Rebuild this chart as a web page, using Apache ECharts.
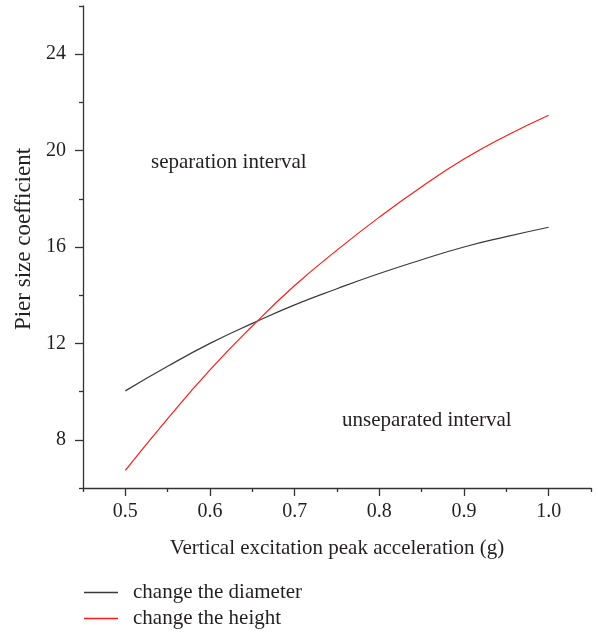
<!DOCTYPE html>
<html>
<head>
<meta charset="utf-8">
<script src="https://cdn.jsdelivr.net/npm/echarts@6/dist/echarts.min.js"></script>
<style>
  html, body { margin: 0; padding: 0; background: #fff; }
  #chart { width: 598px; height: 633px; }
</style>
</head>
<body>
<div id="chart"></div>
<script>
// Vertical excitation peak acceleration (g)
const accel = [0.5, 0.55, 0.6, 0.65, 0.7, 0.75, 0.8, 0.85, 0.9, 0.95, 1.0];
// Pier size coefficient when changing the diameter
const diameterCoef = [10.03, 11.05, 12.0, 12.83, 13.6, 14.27, 14.9, 15.47, 16.0, 16.43, 16.82];
// Pier size coefficient when changing the height
const heightCoef = [6.73, 8.88, 10.9, 12.72, 14.4, 15.87, 17.24, 18.5, 19.65, 20.62, 21.47];

const xMajorTicks = [0.5, 0.6, 0.7, 0.8, 0.9, 1.0];
const xMinorTicks = [0.45, 0.55, 0.65, 0.75, 0.85, 0.95, 1.05];
const yMajorTicks = [8, 12, 16, 20, 24];
const yMinorTicks = [6, 10, 14, 18, 22, 26];

const seriesNames = ['change the diameter', 'change the height'];
const regionLabels = ['separation interval', 'unseparated interval'];

const FONT = '"Liberation Serif", "DejaVu Serif", serif';
const INK = '#231f20';
const AXIS = '#333333';

const chart = echarts.init(document.getElementById('chart'), null, { renderer: 'canvas' });

const axisLineStyle = { show: true, lineStyle: { color: AXIS, width: 1.3 } };

chart.setOption({
  animation: false,
  backgroundColor: '#ffffff',
  textStyle: { fontFamily: FONT, color: INK },
  grid: { left: 83, right: 7, top: 6, bottom: 145, containLabel: false },
  xAxis: [
    {
      type: 'value', min: 0.45, max: 1.05, position: 'bottom',
      name: 'Vertical excitation peak acceleration (g)',
      nameLocation: 'middle', nameGap: 50,
      nameTextStyle: { fontFamily: FONT, fontSize: 21, color: INK },
      axisLine: axisLineStyle,
      axisTick: { show: true, length: 8, inside: false, customValues: xMajorTicks,
        lineStyle: { color: AXIS, width: 1.3 } },
      axisLabel: { show: true, customValues: xMajorTicks, margin: 14,
        fontFamily: FONT, fontSize: 20, color: INK,
        formatter: v => v.toFixed(1) },
      splitLine: { show: false }
    },
    {
      type: 'value', min: 0.45, max: 1.05, position: 'bottom',
      axisLine: { show: false },
      axisTick: { show: true, length: 4, customValues: xMinorTicks,
        lineStyle: { color: AXIS, width: 1.3 } },
      axisLabel: { show: false },
      splitLine: { show: false }
    }
  ],
  yAxis: [
    {
      type: 'value', min: 6, max: 26, position: 'left',
      name: 'Pier size coefficient',
      nameLocation: 'middle', nameGap: 47,
      nameTextStyle: { fontFamily: FONT, fontSize: 23, color: INK, padding: [0, 0, 0, 16] },
      axisLine: axisLineStyle,
      axisTick: { show: true, length: 8, customValues: yMajorTicks,
        lineStyle: { color: AXIS, width: 1.3 } },
      axisLabel: { show: true, customValues: yMajorTicks, margin: 17,
        fontFamily: FONT, fontSize: 20, color: INK },
      splitLine: { show: false }
    },
    {
      type: 'value', min: 6, max: 26, position: 'left',
      axisLine: { show: false },
      axisTick: { show: true, length: 4, customValues: yMinorTicks,
        lineStyle: { color: AXIS, width: 1.3 } },
      axisLabel: { show: false },
      splitLine: { show: false }
    }
  ],
  legend: {
    orient: 'vertical', left: 84, top: 582, height: 60, padding: 0,
    icon: 'rect', itemWidth: 34, itemHeight: 1.3, itemGap: 5,
    textStyle: { fontFamily: FONT, fontSize: 21, color: INK, lineHeight: 21, padding: [0, 0, 0, 10] },
    data: seriesNames
  },
  series: [
    {
      name: seriesNames[0], type: 'line', smooth: true, symbol: 'none',
      xAxisIndex: 0, yAxisIndex: 0,
      lineStyle: { color: '#3a3a3a', width: 1.2 },
      itemStyle: { color: '#3a3a3a' },
      data: accel.map((x, i) => [x, diameterCoef[i]])
    },
    {
      name: seriesNames[1], type: 'line', smooth: true, symbol: 'none',
      xAxisIndex: 0, yAxisIndex: 0,
      lineStyle: { color: '#ff1a1a', width: 1.2 },
      itemStyle: { color: '#ff1a1a' },
      data: accel.map((x, i) => [x, heightCoef[i]])
    }
  ],
  graphic: [
    { type: 'text', left: 151, top: 152,
      style: { text: regionLabels[0], font: '21px ' + FONT, fill: INK } },
    { type: 'text', left: 342, top: 410,
      style: { text: regionLabels[1], font: '21px ' + FONT, fill: INK } }
  ]
});
</script>
</body>
</html>
